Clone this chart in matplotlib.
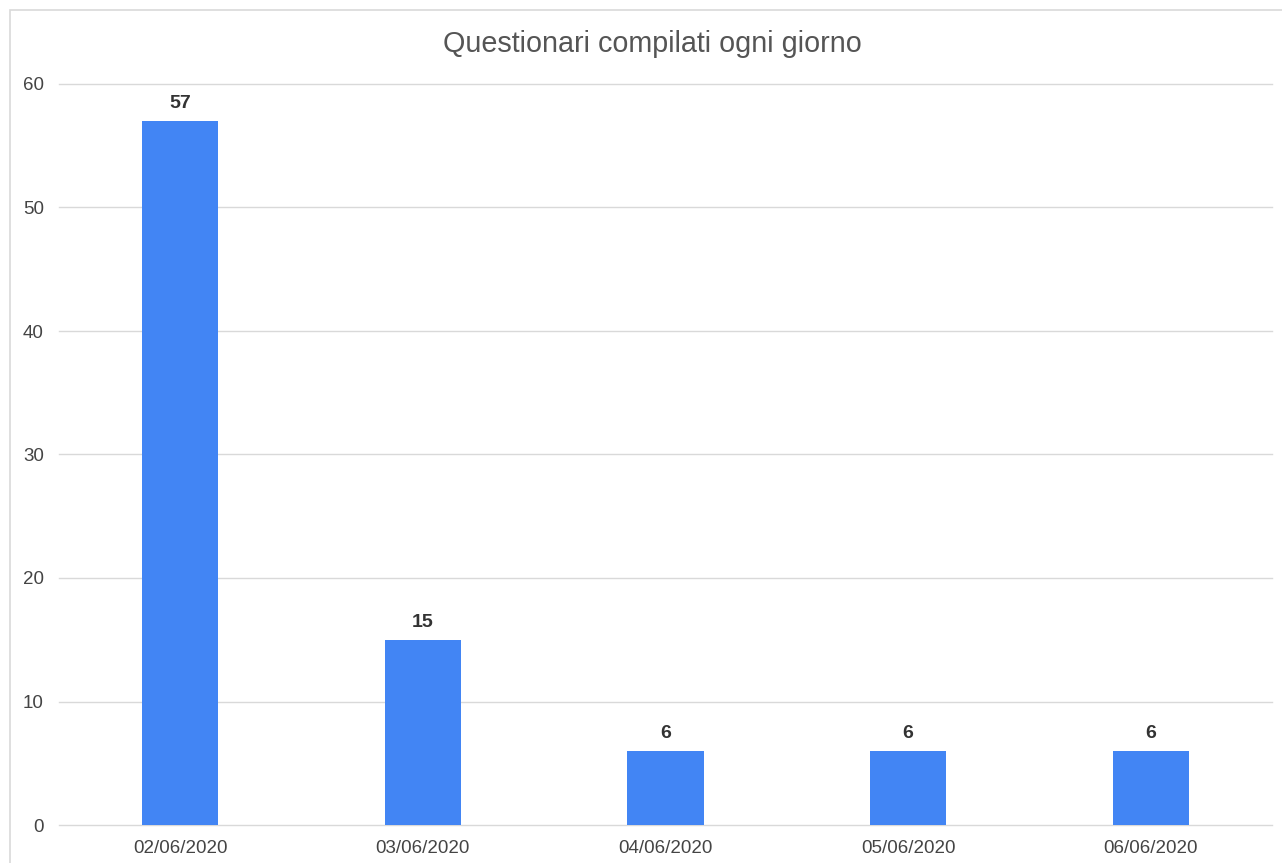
import matplotlib
matplotlib.use("Agg")
import matplotlib.pyplot as plt
from matplotlib.patches import Rectangle

categories = ["02/06/2020", "03/06/2020", "04/06/2020", "05/06/2020", "06/06/2020"]
values = [57, 15, 6, 6, 6]
yticks = [0, 10, 20, 30, 40, 50, 60]
title = "Questionari compilati ogni giorno"

plt.rcParams['font.family'] = ['Liberation Sans', 'DejaVu Sans']

W, H = 1282, 863
fig = plt.figure(figsize=(W/100, H/100), dpi=100)
fig.patch.set_facecolor("white")
fig.add_artist(Rectangle((10/W, -10/H), (W)/W, (H)/H, transform=fig.transFigure,
                         fill=False, edgecolor="#d9d9d9", linewidth=1.2))

ax = fig.add_axes([59/W, 38/H, (1272-59)/W, (825-84)/H])
x = list(range(len(categories)))
bars = ax.bar(x, values, width=0.314, color="#4285F4", zorder=3)
ax.set_xlim(-0.5, len(categories) - 0.5)
ax.set_ylim(0, 60)
ax.set_yticks(yticks)
ax.set_xticks(x)
ax.set_xticklabels(categories)
ax.grid(axis="y", color="#d9d9d9", linewidth=1, zorder=0)
for gl in ax.get_ygridlines():
    gl.set_clip_on(False)
for s in ax.spines.values():
    s.set_visible(False)
ax.tick_params(axis="both", length=0, labelsize=13.5, colors="#444444")
ax.tick_params(axis="y", pad=11)
ax.tick_params(axis="x", pad=11)
for b, v in zip(bars, values):
    ax.annotate(str(v), (b.get_x() + b.get_width()/2, v), xytext=(0, 6.5),
                textcoords="offset points", ha="center", va="bottom",
                fontsize=14, fontweight="bold", color="#333333")
fig.text(652/W, 1 - 44/H, title, ha="center", va="center", fontsize=20.7, color="#555555")
fig.savefig("out.png", dpi=100)
